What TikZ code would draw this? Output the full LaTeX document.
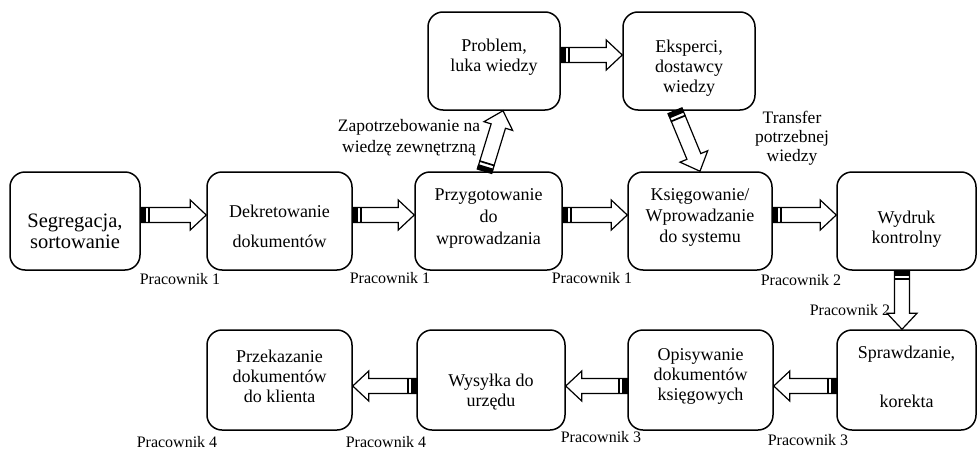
\documentclass[tikz,border=0pt]{standalone}
\usepackage{fontspec}
\setmainfont{Liberation Serif}
\usetikzlibrary{calc}

\tikzset{
  box/.style={draw, line width=1.5pt, rounded corners=15pt, inner sep=0pt},
  boxtext/.style={align=center, font=\fontsize{18}{20}\selectfont, anchor=base, inner sep=0pt},
  worker/.style={font=\fontsize{16}{18}\selectfont, anchor=base, inner sep=0pt},
  note/.style={align=center, font=\fontsize{17.5}{19}\selectfont, anchor=base, inner sep=0pt},
  arrowbody/.style={draw, fill=white, line width=1.2pt, line join=miter},
}

% Block arrow with a striped tail, drawn from #1 to #2
\newcommand\flowarrow[2]{%
  \path let \p1=(#1), \p2=(#2) in
    \pgfextra{%
      \pgfmathsetmacro\faAng{atan2(\y2-\y1,\x2-\x1)}%
      \pgfmathsetmacro\faLen{veclen(\x2-\x1,\y2-\y1)}%
      \xdef\faAng{\faAng}\xdef\faLen{\faLen}};
  \begin{scope}[shift={(#1)}, rotate=\faAng]
    \draw[arrowbody] (0pt,-7.5pt) -- ({\faLen pt-16pt},-7.5pt) -- ({\faLen pt-16pt},-15pt)
      -- (\faLen pt,0pt) -- ({\faLen pt-16pt},15pt) -- ({\faLen pt-16pt},7.5pt) -- (0pt,7.5pt) -- cycle;
    \fill[black] (0pt,-8pt) rectangle (5pt,8pt);
    \fill[black] (7.5pt,-8pt) rectangle (9.2pt,8pt);
  \end{scope}
}

\begin{document}
\begin{tikzpicture}[x=1pt, y=-1pt]
\useasboundingbox (0,0) rectangle (978,450);

% process boxes
\node[box, minimum width=130pt, minimum height=98pt] (b1) at (75,221) {};
\node[box, minimum width=145pt, minimum height=98pt] (b2) at (279.5,221) {};
\node[box, minimum width=147pt, minimum height=98pt] (b3) at (488.5,221) {};
\node[box, minimum width=144pt, minimum height=98pt] (b4) at (700,221) {};
\node[box, minimum width=139pt, minimum height=98pt] (b5) at (906.5,221) {};
\node[box, minimum width=132pt, minimum height=98pt] (b6) at (494,61) {};
\node[box, minimum width=132pt, minimum height=98pt] (b7) at (689,61) {};
\node[box, minimum width=139pt, minimum height=100pt] (b8) at (906.5,380) {};
\node[box, minimum width=145pt, minimum height=100pt] (b9) at (700.5,380) {};
\node[box, minimum width=148pt, minimum height=100pt] (b10) at (491,380) {};
\node[box, minimum width=145pt, minimum height=100pt] (b11) at (279.5,380) {};

% box texts (anchored on the baseline of the last line)
\node[boxtext, font=\fontsize{20.5}{21}\selectfont] (t1) at (75,248) {Segregacja,\\sortowanie};
\node[boxtext] (t2) at (279.5,247) {Dekretowanie\\[10pt]dokumentów};
\node[boxtext] (t3) at (488.5,244) {Przygotowanie\\[2pt]do\\[2pt]wprowadzania};
\node[boxtext] (t4) at (700,242) {Księgowanie/\\[1pt]Wprowadzanie\\[1pt]do systemu};
\node[boxtext] (t5) at (906.5,243) {Wydruk\\kontrolny};
\node[boxtext] (t6) at (494,71) {Problem,\\luka wiedzy};
\node[boxtext] (t7) at (689,92) {Eksperci,\\dostawcy\\wiedzy};
\node[boxtext] (t8) at (906.5,407) {Sprawdzanie,\\[29pt]korekta};
\node[boxtext] (t9) at (700.5,400) {Opisywanie\\dokumentów\\księgowych};
\node[boxtext] (t10) at (491,406) {Wysyłka do\\urzędu};
\node[boxtext] (t11) at (279.5,402) {Przekazanie\\dokumentów\\do klienta};

% flow arrows
\flowarrow{[yshift=6pt]b1.east}{[yshift=6pt]b2.west}
\flowarrow{[yshift=6pt]b2.east}{[yshift=6pt]b3.west}
\flowarrow{[yshift=6pt]b3.east}{[yshift=6pt]b4.west}
\flowarrow{[yshift=6pt]b4.east}{[yshift=6pt]b5.west}
\flowarrow{[yshift=6pt]b6.east}{[yshift=6pt]b7.west}
\flowarrow{[xshift=-4pt]b3.north}{[xshift=9pt]b6.south}
\flowarrow{[xshift=-14pt]b7.south}{b4.north}
\flowarrow{[xshift=-4.5pt]b5.south}{[xshift=-4.5pt]b8.north}
\flowarrow{[yshift=-6pt]b8.west}{[yshift=-6pt]b9.east}
\flowarrow{[yshift=-6pt]b9.west}{[yshift=-6pt]b10.east}
\flowarrow{[yshift=-6pt]b10.west}{[yshift=-6pt]b11.east}

% arrow notes
\node[note] (n1) at (409,152) {Zapotrzebowanie na\\[2pt]wiedzę zewnętrzną};
\node[note] (n2) at (792,161) {Transfer\\potrzebnej\\wiedzy};

% worker labels
\node[worker] (w1) at (180,284) {Pracownik 1};
\node[worker] (w2) at (390,283) {Pracownik 1};
\node[worker] (w3) at (592,283) {Pracownik 1};
\node[worker] (w4) at (801,285) {Pracownik 2};
\node[worker] (w5) at (850,315) {Pracownik 2};
\node[worker] (w6) at (177,447) {Pracownik 4};
\node[worker] (w7) at (386,447) {Pracownik 4};
\node[worker] (w8) at (601,442) {Pracownik 3};
\node[worker] (w9) at (808,445) {Pracownik 3};
\end{tikzpicture}
\end{document}
